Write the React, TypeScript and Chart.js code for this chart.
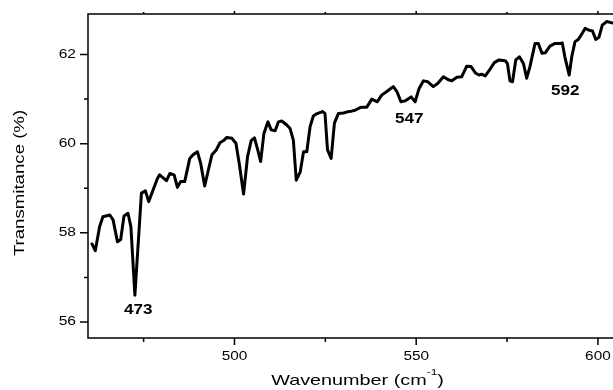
import React, { useEffect, useRef } from 'react';
import { Chart, registerables } from 'chart.js';

Chart.register(...registerables);

const wavenumber = [
  460.8, 461.7, 462.9, 463.8, 465.7, 466.6, 467.8, 468.7, 469.6, 470.7,
  471.5, 472.6, 474.4, 475.5, 476.4, 477.6, 478.8, 479.4, 481.3, 482.2,
  483.4, 484.3, 485.2, 486.3, 487.7, 488.6, 489.8, 490.7, 491.8, 492.7,
  493.8, 495.0, 496.0, 497.0, 497.9, 499.3, 500.4, 501.3, 502.5, 503.6,
  504.6, 505.5, 506.4, 507.2, 508.1, 509.2, 510.1, 511.2, 512.1, 513.0,
  514.4, 515.3, 516.2, 517.0, 518.1, 519.0, 519.9, 520.8, 521.7, 522.6,
  524.2, 524.9, 525.6, 526.6, 527.5, 528.6, 530.0, 531.3, 532.2, 533.2,
  534.1, 535.0, 536.4, 537.8, 539.3, 540.5, 541.9, 543.7, 544.7, 545.8,
  546.9, 548.6, 549.7, 550.8, 552.0, 553.2, 554.7, 555.9, 557.5, 558.7,
  559.8, 561.2, 562.5, 563.9, 565.1, 566.4, 567.3, 568.0, 569.0, 570.3,
  571.5, 572.8, 574.5, 575.1, 575.8, 576.5, 577.4, 578.4, 579.5, 580.4,
  581.3, 582.7, 583.6, 584.6, 585.5, 586.8, 588.2, 589.6, 590.2, 590.9,
  592.1, 592.8, 593.7, 594.6, 595.4, 596.5, 597.4, 598.5, 599.4, 600.3,
  601.2, 602.4, 603.9, 605.0,
];

const transmittance = [
  57.75, 57.60, 58.14, 58.36, 58.40, 58.29, 57.80, 57.85, 58.38, 58.44,
  58.14, 56.60, 58.89, 58.94, 58.70, 58.96, 59.22, 59.30, 59.17, 59.33,
  59.30, 59.02, 59.15, 59.15, 59.67, 59.75, 59.82, 59.56, 59.05, 59.37,
  59.75, 59.86, 60.02, 60.07, 60.14, 60.12, 60.01, 59.56, 58.87, 59.71,
  60.07, 60.13, 59.86, 59.60, 60.23, 60.49, 60.31, 60.29, 60.49, 60.51,
  60.42, 60.34, 60.08, 59.18, 59.37, 59.82, 59.82, 60.38, 60.62, 60.67,
  60.72, 60.68, 59.86, 59.67, 60.46, 60.68, 60.69, 60.72, 60.73, 60.75,
  60.79, 60.82, 60.82, 61.00, 60.94, 61.09, 61.17, 61.28, 61.17, 60.94,
  60.96, 61.05, 60.94, 61.24, 61.41, 61.39, 61.28, 61.35, 61.50, 61.44,
  61.41, 61.49, 61.50, 61.74, 61.73, 61.58, 61.54, 61.56, 61.52, 61.67,
  61.82, 61.88, 61.86, 61.80, 61.41, 61.39, 61.88, 61.95, 61.80, 61.47,
  61.73, 62.25, 62.25, 62.03, 62.04, 62.19, 62.25, 62.25, 62.26, 61.95,
  61.54, 61.95, 62.29, 62.34, 62.44, 62.59, 62.55, 62.53, 62.34, 62.39,
  62.66, 62.74, 62.71, 62.72,
];

const xTickLabels = ['500', '550', '600'];
const yTickLabels = ['56', '58', '60', '62'];

const peakLabels = ['473', '547', '592'];
const peakLabelX = [473.5, 548.1, 591.0];
const peakLabelY = [56.27, 60.56, 61.19];

const xTitle = 'Wavenumber (cm';
const xTitleSup = '-1';
const xTitleEnd = ')';
const yTitle = 'Transmitance (%)';

const FONT = "'Liberation Sans', Arial, sans-serif";

function drawText(
  ctx: CanvasRenderingContext2D,
  text: string,
  x: number,
  y: number,
  font: string,
  sx: number,
  align: CanvasTextAlign,
  baseline: CanvasTextBaseline,
  rot = 0
) {
  ctx.save();
  ctx.translate(x, y);
  if (rot) ctx.rotate(rot);
  ctx.scale(sx, 1);
  ctx.font = font;
  ctx.textAlign = align;
  ctx.textBaseline = baseline;
  ctx.fillText(text, 0, 0);
  ctx.restore();
}

const framePlugin = {
  id: 'originFrame',
  afterDraw(chart: any) {
    const { ctx, chartArea, scales } = chart;
    const { left, right, top, bottom } = chartArea;
    const xs = scales.x;
    const ys = scales.y;
    ctx.save();
    ctx.strokeStyle = '#000';
    ctx.fillStyle = '#000';
    ctx.lineWidth = 1.5;
    ctx.beginPath();
    ctx.moveTo(left, top);
    ctx.lineTo(right, top);
    ctx.lineTo(right, bottom);
    ctx.lineTo(left, bottom);
    ctx.closePath();
    ctx.stroke();

    ctx.beginPath();
    xs.ticks.forEach((t: any) => {
      const px = xs.getPixelForValue(t.value);
      const major = xTickLabels.includes(String(t.value));
      ctx.moveTo(px, bottom);
      ctx.lineTo(px, bottom + (major ? 7 : 4));
      ctx.moveTo(px, top);
      ctx.lineTo(px, top - (major ? 3 : 2));
    });
    ys.ticks.forEach((t: any) => {
      const py = ys.getPixelForValue(t.value);
      const major = yTickLabels.includes(String(t.value));
      ctx.moveTo(left, py);
      ctx.lineTo(left - (major ? 8 : 4), py);
    });
    ctx.stroke();

    const tickFont = `12px ${FONT}`;
    xs.ticks.forEach((t: any) => {
      const lbl = String(t.value);
      if (!xTickLabels.includes(lbl)) return;
      drawText(ctx, lbl, xs.getPixelForValue(t.value), bottom + 18.5, tickFont, 1.28, 'center', 'middle');
    });
    ys.ticks.forEach((t: any) => {
      const lbl = String(t.value);
      if (!yTickLabels.includes(lbl)) return;
      drawText(ctx, lbl, left - 12, ys.getPixelForValue(t.value), tickFont, 1.3, 'right', 'middle');
    });

    const peakFont = `bold 14px ${FONT}`;
    peakLabels.forEach((lbl, i) => {
      drawText(ctx, lbl, xs.getPixelForValue(peakLabelX[i]), ys.getPixelForValue(peakLabelY[i]), peakFont, 1.22, 'center', 'middle');
    });

    // x title with superscript
    const sx = 1.32;
    const mainFont = `15px ${FONT}`;
    const supFont = `9px ${FONT}`;
    ctx.font = mainFont;
    const w1 = ctx.measureText(xTitle).width * sx;
    const w3 = ctx.measureText(xTitleEnd).width * sx;
    ctx.font = supFont;
    const w2 = ctx.measureText(xTitleSup).width * sx;
    const total = w1 + w2 + w3;
    const cx = (left + right) / 2;
    let x0 = cx - total / 2;
    const ty = 380.5;
    drawText(ctx, xTitle, x0, ty, mainFont, sx, 'left', 'middle');
    x0 += w1;
    drawText(ctx, xTitleSup, x0, ty - 7.5, supFont, sx, 'left', 'middle');
    x0 += w2;
    drawText(ctx, xTitleEnd, x0, ty, mainFont, sx, 'left', 'middle');

    // y title
    drawText(ctx, yTitle, 20.5, 183, `14px ${FONT}`, 1.33, 'center', 'middle', -Math.PI / 2);

    ctx.restore();
  },
};

export default function App() {
  const ref = useRef<HTMLCanvasElement | null>(null);

  useEffect(() => {
    if (!ref.current) return;
    const points = wavenumber.map((w, i) => ({ x: w, y: transmittance[i] }));
    const chart = new Chart(ref.current, {
      type: 'line',
      data: {
        datasets: [
          {
            data: points,
            borderColor: '#000',
            borderWidth: 3,
            pointRadius: 0,
            tension: 0,
            fill: false,
            borderJoinStyle: 'round',
            borderCapStyle: 'round',
          },
        ],
      },
      options: {
        responsive: false,
        animation: false,
        devicePixelRatio: 1,
        layout: { padding: { top: 14, right: 13, left: 0, bottom: 0 } },
        plugins: {
          legend: { display: false },
          tooltip: { enabled: false },
          title: { display: false },
        },
        scales: {
          x: {
            type: 'linear',
            min: 459.7,
            max: 608,
            ticks: { stepSize: 25, includeBounds: false, display: false },
            grid: { display: false, drawTicks: false },
            border: { display: false },
            afterFit: (s: any) => {
              s.height = 52;
            },
          },
          y: {
            type: 'linear',
            min: 55.64,
            max: 62.91,
            ticks: { stepSize: 1, includeBounds: false, display: false },
            grid: { display: false, drawTicks: false },
            border: { display: false },
            afterFit: (s: any) => {
              s.width = 88;
            },
          },
        },
      } as any,
      plugins: [framePlugin],
    });
    return () => chart.destroy();
  }, []);

  return (
    <div
      style={{
        position: 'fixed',
        left: 0,
        top: 0,
        width: 613,
        height: 390,
        overflow: 'hidden',
        background: '#fff',
      }}
    >
      <canvas ref={ref} width={640} height={390} style={{ width: 640, height: 390, display: 'block' }} />
    </div>
  );
}
